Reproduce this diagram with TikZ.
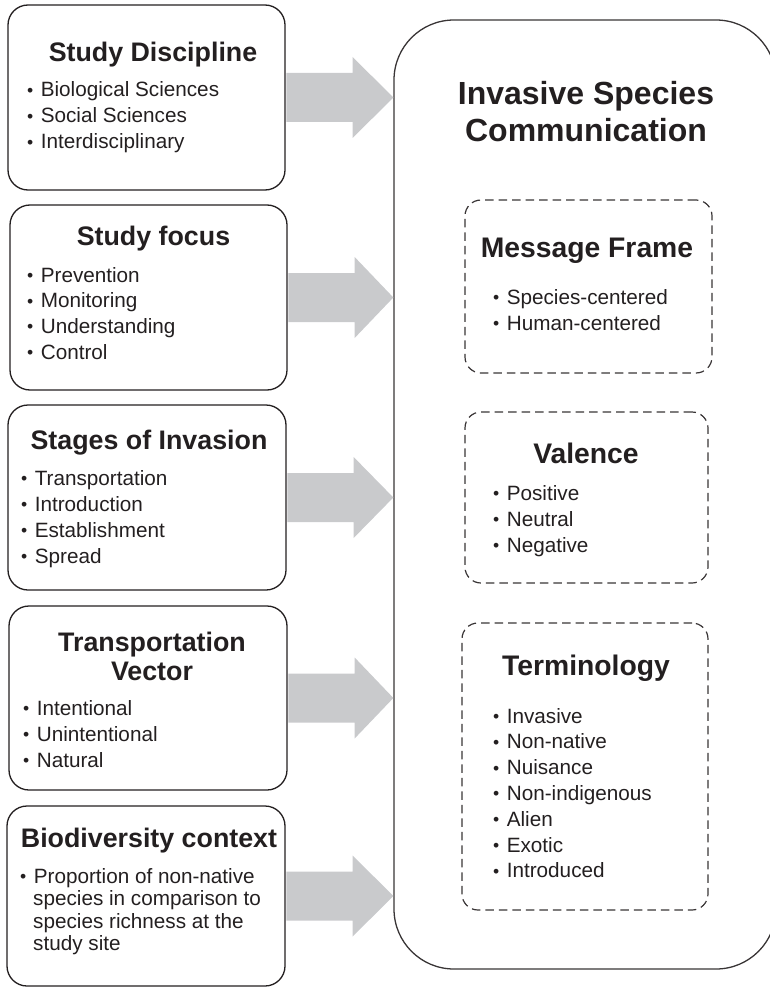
\documentclass[tikz,border=0pt]{standalone}
\usepackage{fontspec}
\setmainfont{Liberation Sans}
\usetikzlibrary{calc}
\definecolor{ink}{HTML}{231F20}
\definecolor{arrowgray}{HTML}{C9CACC}
\newcommand{\bul}{\raisebox{0.5pt}{\scalebox{0.85}{•}}\hspace{0.36em}}
\begin{document}
\begin{tikzpicture}[x=1pt,y=-1pt,
  lbox/.style={draw=ink, line width=1.3pt, rounded corners=20pt, inner sep=0pt},
  bigbox/.style={draw=ink!90, line width=1.3pt, rounded corners=60pt, inner sep=0pt},
  dbox/.style={draw=ink!90, line width=1.2pt, dash pattern=on 8.5pt off 5pt, rounded corners=16pt, inner sep=0pt},
  ltitle/.style={font=\fontsize{26.8}{29}\selectfont\bfseries, text=ink, inner sep=0pt, anchor=base},
  mtitle/.style={font=\fontsize{28.3}{30}\selectfont\bfseries, text=ink, inner sep=0pt, anchor=base},
  btitle/.style={font=\fontsize{32}{37}\selectfont\bfseries, text=ink, inner sep=0pt, anchor=base},
  itm/.style={font=\fontsize{20.7}{24}\selectfont, text=ink, inner sep=0pt, anchor=base west},
  fatarrow/.style={fill=arrowgray, draw=none}
]
\useasboundingbox (0,0) rectangle (770,987);
\clip (0,0) rectangle (770,987);

% boxes
\node[lbox, minimum width=277pt, minimum height=185pt] (b1) at (146.5,97.5) {};
\node[lbox, minimum width=277pt, minimum height=185pt] (b2) at (148.5,297.5) {};
\node[lbox, minimum width=278pt, minimum height=185pt] (b3) at (147,497.5) {};
\node[lbox, minimum width=278pt, minimum height=184pt] (b4) at (148,698) {};
\node[lbox, minimum width=278pt, minimum height=180pt] (b5) at (146,896) {};
\node[bigbox, minimum width=382pt, minimum height=949pt] (big) at (585,494.5) {};
\node[dbox, minimum width=247pt, minimum height=173pt] (mf) at (588.5,286.5) {};
\node[dbox, minimum width=243pt, minimum height=171pt] (va) at (586.5,497.5) {};
\node[dbox, minimum width=246pt, minimum height=287pt] (te) at (585,766.5) {};

% arrows
\foreach \b in {b1,b2,b3,b4,b5}{
  \fill[fatarrow] ($(\b.east)+(0.7,-24.5)$) -- ($(\b.east)+(67,-24.5)$) -- ($(\b.east)+(67,-40.5)$)
    -- (\b.east -| big.west) -- ($(\b.east)+(67,40.5)$) -- ($(\b.east)+(67,24.5)$)
    -- ($(\b.east)+(0.7,24.5)$) -- cycle;
}

% central titles
\node[btitle] (t0a) at (586,105) {Invasive Species};
\node[btitle] (t0b) at (586,142) {Communication};

\node[mtitle] (tmf) at (587,257) {Message Frame};
\node[itm] (mf1) at (493,304) {\bul Species-centered};
\node[itm] (mf2) at (493,330) {\bul Human-centered};

\node[mtitle] (tva) at (586,463) {Valence};
\foreach \t [count=\i] in {Positive,Neutral,Negative}
  \node[itm] (va\i) at (493,{474+26*\i}) {\bul \t};

\node[mtitle] (tte) at (586,675) {Terminology};
\foreach \t [count=\i] in {Invasive,Non-native,Nuisance,Non-indigenous,Alien,Exotic,Introduced}
  \node[itm] (te\i) at (493,{697.2+25.8*\i}) {\bul \t};

% left box texts
\node[ltitle] (tb1) at (153,62) {Study Discipline};
\foreach \t [count=\i] in {Biological Sciences,Social Sciences,Interdisciplinary}
  \node[itm] (b1i\i) at (27,{71+26*\i}) {\bul \t};

\node[ltitle] (tb2) at (153.5,245) {Study focus};
\foreach \t [count=\i] in {Prevention,Monitoring,Understanding,Control}
  \node[itm] (b2i\i) at (27,{256.3+25.7*\i}) {\bul \t};

\node[ltitle] (tb3) at (149,449) {Stages of Invasion};
\foreach \t [count=\i] in {Transportation,Introduction,Establishment,Spread}
  \node[itm] (b3i\i) at (21,{459+26*\i}) {\bul \t};

\node[ltitle] (tb4a) at (152,651) {Transportation};
\node[ltitle] (tb4b) at (152,680) {Vector};
\foreach \t [count=\i] in {Intentional,Unintentional,Natural}
  \node[itm] (b4i\i) at (23,{689+26*\i}) {\bul \t};

\node[ltitle] (tb5) at (149,847) {Biodiversity context};
\node[itm] (b5i1) at (20,883) {\bul Proportion of non-native};
\node[itm] (b5i2) at (33,905.5) {species in comparison to};
\node[itm] (b5i3) at (33,928) {species richness at the};
\node[itm] (b5i4) at (33,950.5) {study site};
\end{tikzpicture}
\end{document}
